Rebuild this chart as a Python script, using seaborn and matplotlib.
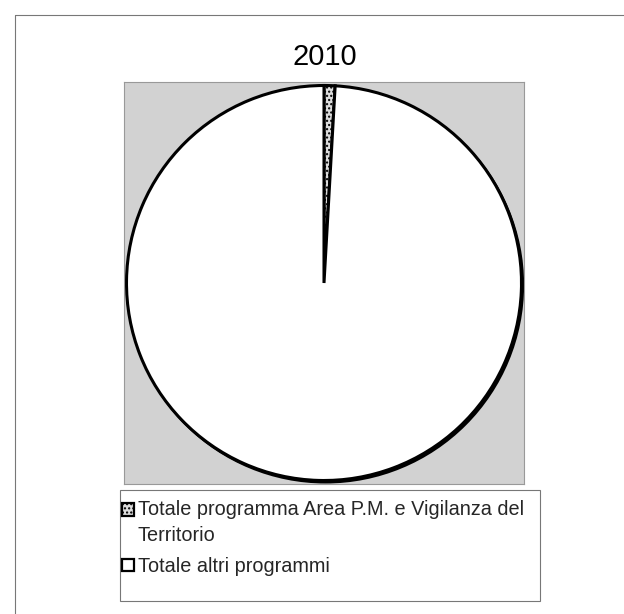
import matplotlib
matplotlib.use("Agg")
import matplotlib.pyplot as plt
import seaborn as sns
from matplotlib.patches import Rectangle, Circle
from matplotlib.legend_handler import HandlerPatch

# Data (share of total, %)
labels = ["Totale programma Area P.M. e Vigilanza del\nTerritorio", "Totale altri programmi"]
values = [0.9, 99.1]
title = "2010"

sns.set_theme(style="white")
plt.rcParams["font.family"] = ["Liberation Sans", "DejaVu Sans"]

W, H = 624, 614
fig = plt.figure(figsize=(W / 100, H / 100), dpi=100)

# outer chart frame (thin grey lines top and left)
fig.add_artist(plt.Line2D([15 / W, 1], [1 - 15 / H, 1 - 15 / H], color="#777777", lw=0.8))
fig.add_artist(plt.Line2D([15 / W, 15 / W], [0, 1 - 15 / H], color="#777777", lw=0.8))

# plot area
ax = fig.add_axes([124 / W, 1 - 484 / H, 400 / W, 402 / H])
wedges, _ = ax.pie(
    values,
    startangle=90,
    counterclock=False,
    colors=["#dcdcdc", "white"],
    radius=1,
    wedgeprops=dict(edgecolor="black", linewidth=2.2, zorder=2),
)
wedges[0].set_hatch("....")
# darker rim towards the bottom right, as in the scanned chart
ax.add_patch(Circle((0.008, -0.01), 1.0, facecolor="black", edgecolor="black", lw=1.5, zorder=1))
ax.set_frame_on(True)
ax.set_facecolor("#d2d2d2")
ax.set_aspect("auto")
ax.set_xlim(-200 / 197.5, 200 / 197.5)
ax.set_ylim(-201 / 197.5, 201 / 197.5)
for s in ax.spines.values():
    s.set_visible(True)
    s.set_color("#999999")
    s.set_linewidth(0.8)

fig.text(325 / W, 1 - 57 / H, title, ha="center", va="center", fontsize=21, color="black")


# legend square aligned with the first text line of a wrapped label
def top_square(legend, orig_handle, xdescent, ydescent, width, height, fontsize):
    return Rectangle((-xdescent, -ydescent + 9.5), width, height)


# legend box below the pie
fig.add_artist(Rectangle((120 / W, 1 - 601 / H), 420 / W, 111 / H, transform=fig.transFigure,
                         fill=False, edgecolor="#777777", lw=0.8))
leg = fig.legend(
    wedges,
    labels,
    loc="upper left",
    bbox_to_anchor=(118 / W, 1 - 496 / H),
    fontsize=14.3,
    frameon=False,
    handlelength=0.6,
    handleheight=0.6,
    handletextpad=0.2,
    labelspacing=0.62,
    borderpad=0.2,
    borderaxespad=0,
    handler_map={wedges[0]: HandlerPatch(patch_func=top_square)},
)
for t in leg.get_texts():
    t.set_linespacing(1.45)
for h in leg.legend_handles:
    h.set_linewidth(1.6)

fig.savefig("out.png", dpi=100, facecolor="white")
